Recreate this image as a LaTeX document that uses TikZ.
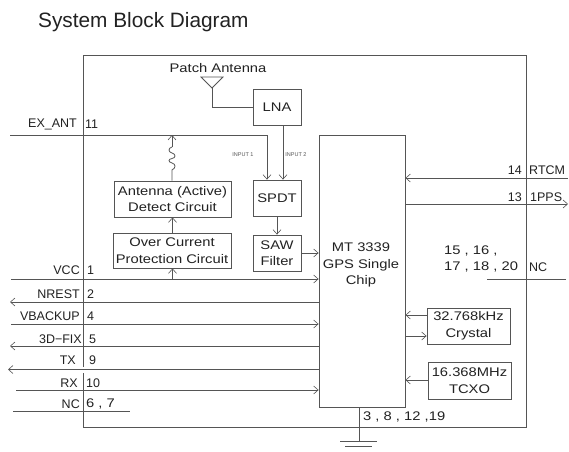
\documentclass[tikz,border=0pt]{standalone}
\usepackage{fontspec}
\setmainfont{Liberation Sans}
\newfontfamily\widefont[FakeStretch=1.18]{Liberation Sans}
\usetikzlibrary{arrows.meta}
\definecolor{ln}{HTML}{555555}
\definecolor{tx}{HTML}{222222}
\tikzset{
  x=1pt,y=-1pt,
  box/.style={draw=ln,line width=.8pt,fill=white,inner sep=0pt,align=center,text=tx,font=\widefont\fontsize{12.5}{16.5}\selectfont},
  lab/.style={inner sep=0pt,text=tx,font=\fontsize{12.5}{15}\selectfont},
  wlab/.style={inner sep=0pt,text=tx,anchor=west,font=\widefont\fontsize{12.5}{15}\selectfont},
  labr/.style={lab,anchor=east},
  labl/.style={lab,anchor=west},
  tiny/.style={inner sep=0pt,text=ln,font=\fontsize{5.5}{6}\selectfont},
  wire/.style={draw=ln,line width=.8pt},
  sig/.style={wire,-{Straight Barb[length=4.5pt,width=8pt,line width=.6pt]}},
}
\begin{document}
\begin{tikzpicture}
\useasboundingbox (0,0) rectangle (569,451);
\fill[white] (0,0) rectangle (569,451);
\node[inner sep=0pt,anchor=west,text=tx,font=\fontsize{20.8}{24}\selectfont] (title) at (38,22) {System Block Diagram};
% outer frame
\coordinate (oTL) at (83,55); \coordinate (oTR) at (526,55);
\coordinate (oBL) at (83,427); \coordinate (oBR) at (526,427);
\coordinate (gapA) at (83,367); \coordinate (gapB) at (83,373);
\draw[wire] (gapA) -- (oTL) -- (oTR) -- (oBR) -- (oBL) -- (gapB);
% boxes
\node[box,minimum width=86pt,minimum height=272pt] (chip) at (362,271) {};
\node[wlab,anchor=center,align=center,font=\widefont\fontsize{12.5}{16.5}\selectfont] (chiptext) at (361,265) {MT 3339\\GPS Single\\Chip};
\node[box,minimum width=48pt,minimum height=36pt] (lna) at (277,107) {LNA};
\node[box,minimum width=48pt,minimum height=36pt] (spdt) at (277,198) {SPDT};
\node[box,minimum width=48pt,minimum height=36pt] (saw) at (277,253) {SAW\\Filter};
\node[box,minimum width=117pt,minimum height=36pt] (det) at (172.5,199) {Antenna (Active)\\Detect Circuit};
\node[box,minimum width=118pt,minimum height=35pt] (ocp) at (172,250.5) {Over Current\\Protection Circuit};
\node[box,minimum width=83pt,minimum height=36pt] (xtal) at (468.5,326) {32.768kHz\\Crystal};
\node[box,minimum width=83pt,minimum height=37pt] (tcxo) at (469.5,380.5) {16.368MHz\\TCXO};
% antenna
\node[wlab,anchor=center] (patch) at (218,68) {Patch Antenna};
\coordinate (antL) at (201,77); \coordinate (antR) at (223,77); \coordinate (antA) at (212,88);
\draw[wire] (antL) -- (antR) -- (antA) -- cycle;
\draw[wire] (antA) |- (lna.west);
% EX_ANT
\coordinate (exL) at (10,135);
\coordinate (exT) at (267,135);
\draw[wire] (exL) -- (exT);
\draw[sig] (exT) -- (exT |- spdt.north);
\coordinate (l2) at (283,125);
\draw[sig] (l2) -- (l2 |- spdt.north);
\node[tiny] (in1) at (243,155) {INPUT 1};
\node[tiny] (in2) at (296,155) {INPUT 2};
% coil
\coordinate (cTop) at (172,147);
\coordinate (cBot) at (172,170);
\draw[wire] (det.north -| cBot) -- (cBot)
  .. controls (176,168) and (176,164) .. (172,163)
  .. controls (168,162) and (168,159) .. (172,158.5)
  .. controls (176,158) and (176,154) .. (172,153)
  .. controls (168,152) and (168,148) .. (cTop);
\draw[sig] (cTop) -- (cTop |- exL);
\draw[sig] (ocp.north -| det.north) -- (det.south);
\coordinate (vT) at (172.5,279);
\draw[sig] (vT) -- (vT |- ocp.south);
\draw[sig] (spdt.south) -- (saw.north);
\draw[sig] (saw.east) -- (saw.east -| chip.west);
% left pins
\coordinate (vccL) at (11,279);
\coordinate (nrL) at (10,302);
\coordinate (vbL) at (11,324);
\coordinate (fixL) at (10,346);
\coordinate (txL) at (8,369.5);
\coordinate (rxL) at (16,390);
\coordinate (ncL) at (13,411);
\coordinate (ncR) at (130,411);
\draw[sig] (vccL) -- (vccL -| chip.west);
\draw[sig] (nrL -| chip.west) -- (nrL);
\draw[sig] (vbL) -- (vbL -| chip.west);
\draw[sig,line width=1pt] (fixL -| chip.west) -- (fixL);
\draw[sig] (txL -| chip.west) -- (txL);
\draw[sig] (rxL) -- (rxL -| chip.west);
\draw[wire] (ncL) -- (ncR);
% left labels
\node[labr] (tex) at (77,124) {EX\_ANT};
\node[labl] (n11) at (85,124) {11};
\node[labr] (tvcc) at (80,270) {VCC};
\node[labl] (n1) at (87,270) {1};
\node[labr] (tnr) at (80,294) {NREST};
\node[labl] (n2) at (87,294) {2};
\node[labr] (tvb) at (80,316) {VBACKUP};
\node[labl] (n4) at (87,316) {4};
\node[labr] (tfix) at (82,339) {3D−FIX};
\node[labl] (n5) at (89,339) {5};
\node[labr] (ttx) at (76,360) {TX};
\node[labl] (n9) at (89,360) {9};
\node[labr] (trx) at (78,383) {RX};
\node[labl] (n10) at (86,383) {10};
\node[labr] (tnc) at (80,404) {NC};
\node[wlab] (n67) at (86,404) {6 , 7};
% right pins
\coordinate (rtR) at (568,178);
\coordinate (ppR) at (568,204);
\coordinate (ncA) at (487,279);
\coordinate (ncB) at (566,279);
\draw[sig] (rtR) -- (rtR -| chip.east);
\draw[sig] (ppR -| chip.east) -- (ppR);
\draw[wire] (ncA) -- (ncB);
\node[labr] (n14) at (522,170) {14};
\node[labl] (trt) at (529,170) {RTCM};
\node[labr] (n13) at (522,197) {13};
\node[labl] (tpp) at (530,197) {1PPS};
\node[wlab] (n15) at (444,251) {15 , 16 ,};
\node[wlab] (n17) at (444,267) {17 , 18 , 20};
\node[labl] (tnc2) at (529,267) {NC};
% crystal, tcxo
\coordinate (x1) at (427,315);
\coordinate (x2) at (405,336);
\coordinate (t1) at (428,380);
\draw[sig] (x1) -- (x1 -| chip.east);
\draw[sig] (x2) -- (x2 -| xtal.west);
\draw[sig] (t1) -- (t1 -| chip.east);
% ground
\coordinate (gT) at (359,407);
\coordinate (gB) at (359,441);
\coordinate (g1L) at (340,441); \coordinate (g1R) at (377,441);
\coordinate (g2L) at (345,446.5); \coordinate (g2R) at (372,446.5);
\draw[wire] (gT) -- (gB);
\draw[wire] (g1L) -- (g1R);
\draw[wire] (g2L) -- (g2R);
\node[wlab] (gnd) at (363,417) {3 , 8 , 12 ,19};
\end{tikzpicture}
\end{document}
